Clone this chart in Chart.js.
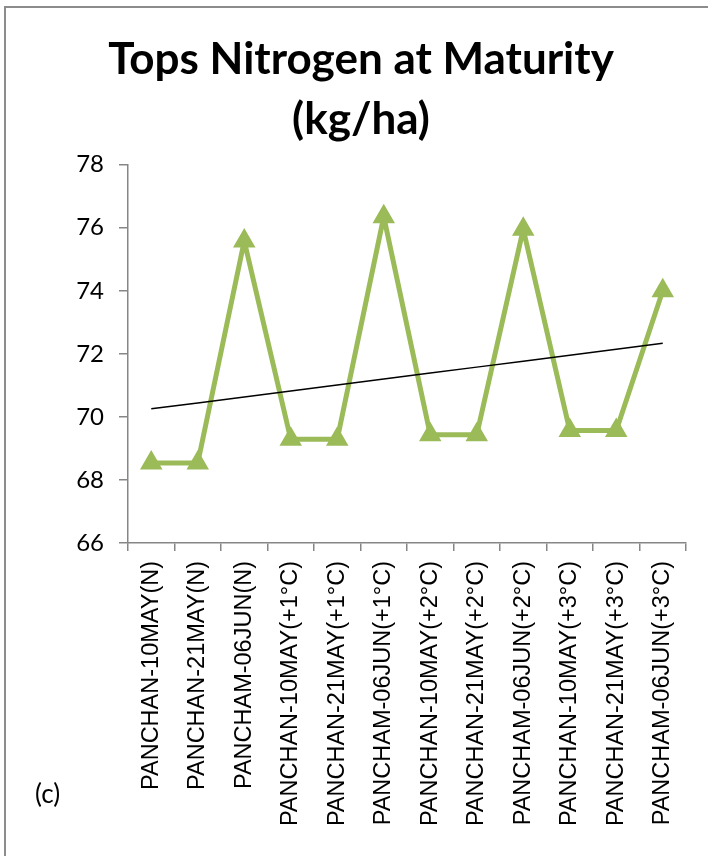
<!DOCTYPE html>
<html>
<head>
<meta charset="utf-8">
<script src="https://cdn.jsdelivr.net/npm/chart.js@4/dist/chart.umd.min.js"></script>
<style>
  html, body { margin: 0; padding: 0; background: #fff; }
  #wrap { position: relative; width: 708px; height: 856px; overflow: hidden; }
  #frame { position: absolute; left: 4px; top: 6px; right: -4px; bottom: -4px;
           border-top: 2px solid #8c8c8c; border-left: 2px solid #8c8c8c; pointer-events: none; }
  #tag { position: absolute; left: 35px; top: 777px; font: 26px Lato, "DejaVu Sans", sans-serif; color: #000; }
  canvas { position: absolute; left: 0; top: 0; }
</style>
</head>
<body>
<div id="wrap">
  <canvas id="c" width="708" height="856"></canvas>
  <div id="frame"></div>
  <div id="tag">(c)</div>
</div>
<script>
// Sowing-date / warming scenarios
const categories = [
  'PANCHAN-10MAY(N)', 'PANCHAN-21MAY(N)', 'PANCHAM-06JUN(N)',
  'PANCHAN-10MAY(+1°C)', 'PANCHAN-21MAY(+1°C)', 'PANCHAM-06JUN(+1°C)',
  'PANCHAN-10MAY(+2°C)', 'PANCHAN-21MAY(+2°C)', 'PANCHAM-06JUN(+2°C)',
  'PANCHAN-10MAY(+3°C)', 'PANCHAN-21MAY(+3°C)', 'PANCHAM-06JUN(+3°C)'
];
// Tops nitrogen at maturity (kg/ha)
const topsNitrogen = [68.54, 68.54, 75.58, 69.29, 69.29, 76.35, 69.43, 69.43, 75.95, 69.57, 69.57, 74.0];
const yTicks = [66, 68, 70, 72, 74, 76, 78];
const titleLines = ['Tops Nitrogen at Maturity', '(kg/ha)'];

// Least-squares linear trend over the category index
function linearTrend(vals) {
  const n = vals.length;
  const xs = vals.map((_, i) => i + 1);
  const mx = xs.reduce((a, b) => a + b, 0) / n;
  const my = vals.reduce((a, b) => a + b, 0) / n;
  let sxy = 0, sxx = 0;
  for (let i = 0; i < n; i++) { sxy += (xs[i] - mx) * (vals[i] - my); sxx += (xs[i] - mx) ** 2; }
  const b = sxy / sxx, a = my - b * mx;
  return xs.map(x => a + b * x);
}
const trend = linearTrend(topsNitrogen);

const axisGrey = '#868686';
const green = '#9BBB59';

new Chart(document.getElementById('c'), {
  type: 'line',
  data: {
    labels: categories,
    datasets: [
      {
        label: 'Tops N',
        data: topsNitrogen,
        borderColor: green,
        backgroundColor: green,
        borderWidth: 5,
        pointStyle: 'triangle',
        pointRadius: 11,
        pointBorderWidth: 2,
        pointBackgroundColor: green,
        pointBorderColor: green,
        tension: 0,
        order: 1
      },
      {
        label: 'Linear trend',
        data: trend,
        borderColor: '#000',
        borderWidth: 1.5,
        pointRadius: 0,
        tension: 0,
        order: 0
      }
    ]
  },
  options: {
    responsive: false,
    animation: false,
    events: [],
    layout: { padding: { left: 36, right: 22, top: 0, bottom: 0 } },
    plugins: {
      legend: { display: false },
      tooltip: { enabled: false },
      title: {
        display: true,
        text: titleLines,
        color: '#000',
        font: { family: 'Lato, "DejaVu Sans", sans-serif', size: 44, weight: 'bold', lineHeight: 1.36 },
        padding: { top: 30, bottom: 15 }
      }
    },
    scales: {
      x: {
        type: 'category',
        offset: true,
        grid: { offset: true, drawOnChartArea: false, drawTicks: true, tickLength: 8, color: axisGrey, lineWidth: 1.5 },
        border: { color: axisGrey, width: 1.5 },
        ticks: {
          autoSkip: false,
          minRotation: 90,
          maxRotation: 90,
          padding: 10,
          color: '#000',
          font: { family: '"Liberation Sans", Arial, sans-serif', size: 23.5 }
        },
        afterFit: s => { s.height = 313; }
      },
      y: {
        min: 66,
        max: 78,
        afterBuildTicks: s => { s.ticks = yTicks.map(v => ({ value: v })); },
        grid: { drawOnChartArea: false, drawTicks: true, tickLength: 9, color: axisGrey, lineWidth: 1.5 },
        border: { color: axisGrey, width: 1.5 },
        ticks: {
          padding: 15,
          color: '#000',
          font: { family: 'Lato, "DejaVu Sans", sans-serif', size: 24 }
        },
        afterFit: s => { s.width = 92; }
      }
    }
  }
});
</script>
</body>
</html>
